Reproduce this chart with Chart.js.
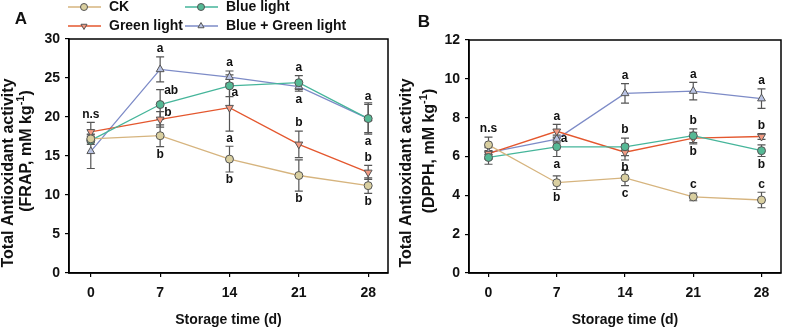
<!DOCTYPE html>
<html>
<head>
<meta charset="utf-8">
<script src="https://cdn.jsdelivr.net/npm/chart.js@4.4.0/dist/chart.umd.min.js"></script>
<style>
  body { margin: 0; background: #fff; }
  .panel { position: absolute; top: 0; height: 329px; }
</style>
</head>
<body>
<div class="panel" style="left:0;width:395px"><canvas id="chartA" width="395" height="329"></canvas></div>
<div class="panel" style="left:395px;width:394px"><canvas id="chartB" width="394" height="329"></canvas></div>
<script>
/* ================= DATA ================= */

const days = [0, 7, 14, 21, 28];

// Panel A - FRAP
const ckA = [17.2, 17.6, 14.6, 12.5, 11.2];
const ckErrA = [0.5, 1.4, 1.65, 2.0, 1.0];
const blueA = [17.0, 21.6, 24.0, 24.4, 19.8];
const blueErrA = [0.5, 1.9, 1.4, 0.9, 1.8];
const greenA = [18.1, 19.7, 21.2, 16.5, 12.9];
const greenErrA = [1.2, 1.0, 3.0, 1.7, 0.9];
const bgA = [15.6, 26.1, 25.1, 23.9, 19.8];
const bgErrA = [2.2, 1.6, 0.8, 0.6, 2.0];

const ckLetA = ["", "b", "b", "b", "b"];
const blueLetA = ["", "ab", "a", "a", "a"];
const greenLetA = ["n.s", "b", "a", "b", "b"];
const bgLetA = ["", "a", "a", "a", "a"];

// Panel B - DPPH
const ckB = [6.6, 4.65, 4.9, 3.92, 3.76];
const ckErrB = [0.4, 0.35, 0.4, 0.2, 0.4];
const blueB = [5.95, 6.5, 6.5, 7.07, 6.3];
const blueErrB = [0.35, 0.5, 0.45, 0.35, 0.3];
const greenB = [6.15, 7.3, 6.22, 6.95, 7.03];
const greenErrB = [0.3, 0.35, 0.4, 0.3, 0.15];
const bgB = [6.2, 6.9, 9.25, 9.37, 8.98];
const bgErrB = [0.3, 0.2, 0.5, 0.45, 0.5];

const ckLetB = ["n.s", "b", "c", "c", "c"];
const blueLetB = ["", "a", "b", "b", "b"];
const greenLetB = ["", "a", "b", "b", "b"];
const bgLetB = ["", "a", "a", "a", "a"];

/* ================= STYLE ================= */

const FONT = "'Liberation Sans', Arial, sans-serif";
const styles = {
  ck:    { label: "CK", line: "#d6b47e", fill: "#d9cfa0", shape: "circle", rot: 0 },
  blue:  { label: "Blue light", line: "#45b59a", fill: "#55b995", shape: "circle", rot: 0 },
  green: { label: "Green light", line: "#e4572e", fill: "#f29a82", shape: "triangle", rot: 180 },
  bg:    { label: "Blue + Green light", line: "#7d8bc7", fill: "#b9c3e3", shape: "triangle", rot: 0 }
};

// letter placement: u = above bar, d = below bar, r = right of point,
// ru = right of bar top, rd = right of bar bottom
const placeA = {
  ck:    ["", "d", "d", "d", "d"],
  blue:  ["", "ru", "rd", "u", "u"],
  green: ["u", "ru", "d", "u", "u"],
  bg:    ["", "u", "u", "d", "d"]
};
const placeB = {
  ck:    ["u", "d", "d", "u", "u"],
  blue:  ["", "d", "u", "u", "d"],
  green: ["", "u", "d", "d", "u"],
  bg:    ["", "r", "u", "u", "u"]
};

function makeSet(key, vals, errs, letters, place) {
  const s = styles[key];
  return {
    label: s.label,
    data: days.map((d, i) => ({ x: d, y: vals[i] })),
    err: errs,
    letters: letters,
    place: place[key],
    borderColor: s.line,
    backgroundColor: s.fill,
    pointBackgroundColor: s.fill,
    pointBorderColor: "#555",
    pointBorderWidth: 1,
    pointStyle: s.shape,
    pointRotation: s.rot,
    pointRadius: s.shape === "circle" ? 4 : 4.5,
    borderWidth: 1.3,
    showLine: true,
    tension: 0
  };
}

/* ================= PLUGINS ================= */

const errorBars = {
  id: "errorBars",
  beforeDatasetsDraw(chart) {
    const { ctx, scales: { x, y } } = chart;
    ctx.save();
    ctx.strokeStyle = "#555";
    ctx.lineWidth = 1.2;
    chart.data.datasets.forEach(ds => {
      ds.data.forEach((p, i) => {
        const px = x.getPixelForValue(p.x);
        const top = y.getPixelForValue(p.y + ds.err[i]);
        const bot = y.getPixelForValue(p.y - ds.err[i]);
        ctx.beginPath();
        ctx.moveTo(px, top); ctx.lineTo(px, bot);
        ctx.moveTo(px - 4, top); ctx.lineTo(px + 4, top);
        ctx.moveTo(px - 4, bot); ctx.lineTo(px + 4, bot);
        ctx.stroke();
      });
    });
    ctx.restore();
  },
  afterDatasetsDraw(chart) {
    const { ctx, scales: { x, y } } = chart;
    ctx.save();
    ctx.fillStyle = "#111";
    ctx.font = "bold 12px " + FONT;
    ctx.textBaseline = "middle";
    chart.data.datasets.forEach(ds => {
      ds.data.forEach((p, i) => {
        const t = ds.letters[i];
        if (!t) return;
        const px = x.getPixelForValue(p.x);
        const py = y.getPixelForValue(p.y);
        const top = y.getPixelForValue(p.y + ds.err[i]);
        const bot = y.getPixelForValue(p.y - ds.err[i]);
        const where = ds.place[i];
        if (where === "u") { ctx.textAlign = "center"; ctx.fillText(t, px, top - 8); }
        else if (where === "d") { ctx.textAlign = "center"; ctx.fillText(t, px, bot + 8); }
        else if (where === "r") { ctx.textAlign = "left"; ctx.fillText(t, px + 4, py); }
        else if (where === "ru") { ctx.textAlign = "left"; ctx.fillText(t, px + 4, top + 1); }
        else if (where === "rd") { ctx.textAlign = "left"; ctx.fillText(t, px + 2, bot - 4); }
      });
    });
    ctx.restore();
  }
};

const frame = {
  id: "frame",
  afterDraw(chart) {
    const { ctx, chartArea: a } = chart;
    ctx.save();
    ctx.strokeStyle = "#000";
    ctx.lineWidth = 1.5;
    ctx.strokeRect(a.left, a.top, a.right - a.left, a.bottom - a.top);
    ctx.restore();
  }
};

// y title with superscript, panel letter
function sideText(panel, unit, x1, x2) {
  return {
    id: "sideText",
    afterDraw(chart) {
      const ctx = chart.ctx;
      ctx.save();
      ctx.fillStyle = "#111";
      ctx.font = "bold 17px " + FONT;
      ctx.textAlign = "center";
      ctx.textBaseline = "middle";
      ctx.fillText(panel, panel === "A" ? 21 : 29, panel === "A" ? 19 : 22);

      ctx.font = "bold 16px " + FONT;
      ctx.save();
      ctx.translate(x1, 173);
      ctx.rotate(-Math.PI / 2);
      ctx.fillText("Total Antioxidant activity", 0, 0);
      ctx.restore();

      const main = "(" + unit + ", mM kg";
      ctx.save();
      ctx.translate(x2, 151);
      ctx.rotate(-Math.PI / 2);
      ctx.textAlign = "left";
      const w1 = ctx.measureText(main).width;
      ctx.font = "bold 11px " + FONT;
      const w2 = ctx.measureText("-1").width;
      ctx.font = "bold 16px " + FONT;
      const w3 = ctx.measureText(")").width;
      let sx = -(w1 + w2 + w3) / 2;
      ctx.fillText(main, sx, 0);
      sx += w1;
      ctx.font = "bold 11px " + FONT;
      ctx.fillText("-1", sx, -6);
      sx += w2;
      ctx.font = "bold 16px " + FONT;
      ctx.fillText(")", sx, 0);
      ctx.restore();
      ctx.restore();
    }
  };
}

const legendBox = {
  id: "legendBox",
  afterDraw(chart) {
    const ctx = chart.ctx;
    const spots = [[68, 7], [185, 7], [68, 26], [185, 26]];
    ctx.save();
    ctx.font = "bold 14px " + FONT;
    ctx.textBaseline = "middle";
    ctx.textAlign = "left";
    chart.data.datasets.forEach((ds, i) => {
      const [lx, ly] = spots[i];
      ctx.strokeStyle = ds.borderColor;
      ctx.lineWidth = 1.3;
      ctx.beginPath();
      ctx.moveTo(lx, ly); ctx.lineTo(lx + 33, ly);
      ctx.stroke();
      ctx.fillStyle = ds.pointBackgroundColor;
      ctx.strokeStyle = ds.pointBorderColor;
      ctx.lineWidth = 1;
      Chart.helpers.drawPoint(ctx, {
        pointStyle: ds.pointStyle, rotation: ds.pointRotation,
        radius: 3.5, borderWidth: 1
      }, lx + 16, ly);
      ctx.fillStyle = "#111";
      ctx.fillText(ds.label, lx + 41, ly);
    });
    ctx.restore();
  }
};

/* ================= CHARTS ================= */

function axisOpts(min, max, step, yWidth, isX) {
  return {
    type: "linear",
    min: min,
    max: max,
    border: { display: true, color: "#000", width: 1.5 },
    grid: { display: true, drawOnChartArea: false, drawTicks: true, tickLength: 4, color: "#000", lineWidth: 1.2 },
    ticks: {
      stepSize: step,
      color: "#111",
      padding: isX ? 8 : 5,
      font: { family: FONT, size: 14, weight: "bold" }
    },
    title: isX ? {
      display: true,
      text: "Storage time (d)",
      color: "#111",
      padding: { top: 0, bottom: 0 },
      font: { family: FONT, size: 14, weight: "bold" }
    } : { display: false },
    afterBuildTicks: isX ? (s => { s.ticks = days.map(v => ({ value: v })); }) : undefined,
    afterFit: s => { if (isX) s.height = 56; else s.width = yWidth; }
  };
}

function build(id, sets, xMin, yMax, yStep, yWidth, pad, extra) {
  return new Chart(document.getElementById(id), {
    type: "scatter",
    data: { datasets: sets },
    options: {
      responsive: false,
      animation: false,
      devicePixelRatio: 1,
      layout: { padding: pad },
      plugins: { legend: { display: false }, tooltip: { enabled: false } },
      scales: {
        x: axisOpts(xMin, 30, 7, 0, true),
        y: axisOpts(0, yMax, yStep, yWidth, false)
      }
    },
    plugins: [errorBars, frame].concat(extra)
  });
}

build("chartA", [
  makeSet("ck", ckA, ckErrA, ckLetA, placeA),
  makeSet("blue", blueA, blueErrA, blueLetA, placeA),
  makeSet("green", greenA, greenErrA, greenLetA, placeA),
  makeSet("bg", bgA, bgErrA, bgLetA, placeA)
], -2.2, 30, 5, 69, { top: 39, right: 7, left: 0, bottom: 0 },
[sideText("A", "FRAP", 9, 27), legendBox]);

build("chartB", [
  makeSet("ck", ckB, ckErrB, ckLetB, placeB),
  makeSet("blue", blueB, blueErrB, blueLetB, placeB),
  makeSet("green", greenB, greenErrB, greenLetB, placeB),
  makeSet("bg", bgB, bgErrB, bgLetB, placeB)
], -2, 12, 2, 74, { top: 40, right: 8, left: 0, bottom: 0 },
[sideText("B", "DPPH", 12, 35)]);
</script>
</body>
</html>
